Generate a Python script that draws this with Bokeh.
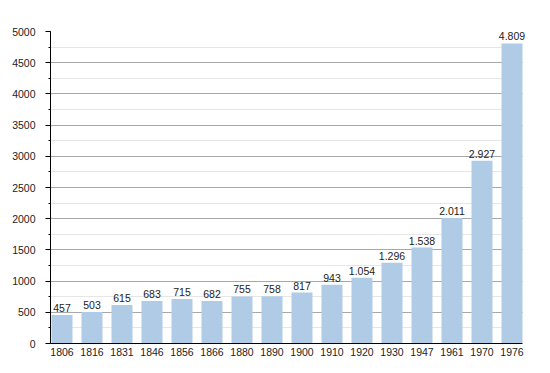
from bokeh.plotting import figure
from bokeh.models import Range1d, SingleIntervalTicker, FixedTicker, ColumnDataSource
from bokeh.core.properties import value
from bokeh.embed import file_html
from bokeh.resources import INLINE

years = ["1806", "1816", "1831", "1846", "1856", "1866", "1880", "1890",
         "1900", "1910", "1920", "1930", "1947", "1961", "1970", "1976"]
population = [457, 503, 615, 683, 715, 682, 755, 758,
              817, 943, 1054, 1296, 1538, 2011, 2927, 4809]

xs = list(range(len(years)))
labels = [f"{v:,}".replace(",", ".") for v in population]
src = ColumnDataSource(dict(x=xs, top=population, label=labels))

FONT = "Liberation Sans"
X0, X1 = -0.383, 15.35

p = figure(frame_width=482, frame_height=312, output_backend="svg",
           toolbar_location=None, x_range=Range1d(X0, X0 + 482 / 30),
           y_range=Range1d(0, 5000),
           min_border_left=50, min_border_top=31, min_border_right=2,
           min_border_bottom=10)
p.outline_line_color = None
p.background_fill_color = "white"

p.vbar(x="x", top="top", width=0.7, source=src, fill_color="#b0cbe5",
       line_color=None)
p.text(x="x", y="top", text="label", source=src, text_align="center",
       text_baseline="bottom", y_offset=-3, text_font_size="10.5px",
       text_font=value(FONT), text_color="#222222")

# y axis
p.yaxis.ticker = SingleIntervalTicker(interval=500, num_minor_ticks=2)
p.yaxis.axis_line_color = "black"
p.yaxis.major_tick_line_color = "black"
p.yaxis.minor_tick_line_color = "black"
p.yaxis.major_tick_out = 5
p.yaxis.major_tick_in = 0
p.yaxis.minor_tick_out = 2
p.yaxis.minor_tick_in = 0
p.yaxis.major_label_standoff = 10
p.yaxis.major_label_text_font = FONT
p.yaxis.major_label_text_font_size = "10.5px"
p.yaxis.major_label_text_color = "#222222"

# x axis
p.xaxis.ticker = FixedTicker(ticks=xs)
p.xaxis.major_label_overrides = {i: y for i, y in zip(xs, years)}
p.xaxis.bounds = (X0, X1)
p.xaxis.axis_line_color = "black"
p.xaxis.major_tick_line_color = None
p.xaxis.minor_tick_line_color = None
p.xaxis.major_tick_out = 0
p.xaxis.major_label_standoff = 4
p.xaxis.major_label_text_font = FONT
p.xaxis.major_label_text_font_size = "10.5px"
p.xaxis.major_label_text_color = "#222222"

# grids
p.xgrid.grid_line_color = None
p.ygrid.grid_line_color = "#a8a8a8"
p.ygrid.grid_line_width = 1
p.ygrid.minor_grid_line_color = "#e6e6e6"
p.ygrid.cross_bounds = (X0, X1)
p.ygrid.level = "underlay"

open("out.html", "w").write(file_html(p, INLINE))
